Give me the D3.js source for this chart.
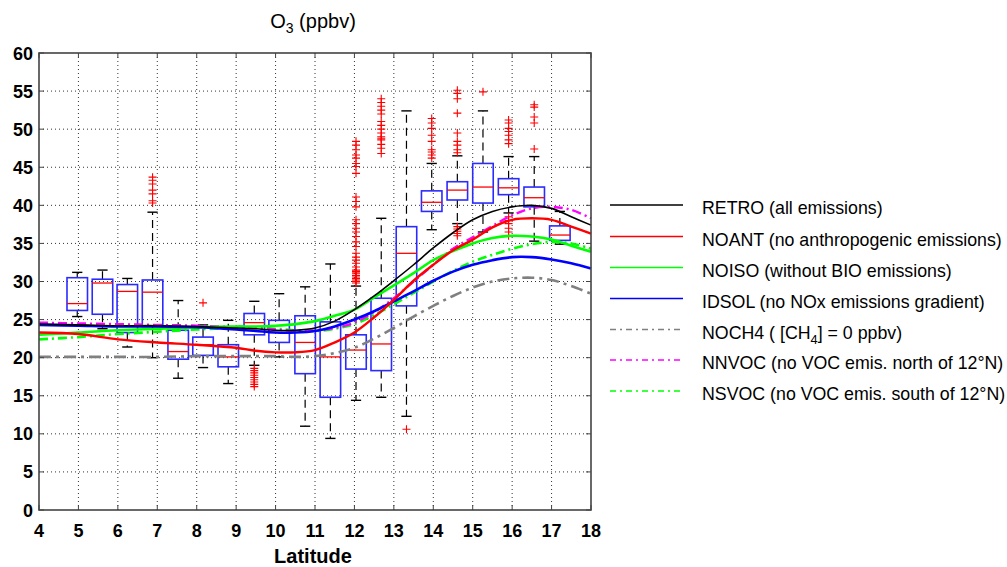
<!DOCTYPE html>
<html><head><meta charset="utf-8">
<script src="https://cdn.jsdelivr.net/npm/d3@7"></script>
<style>
body{margin:0;background:#fff;}
svg{display:block;font-family:"Liberation Sans",Arial,Helvetica,sans-serif;}
</style></head>
<body><svg id="c" width="1007" height="567"></svg>
<script>
// ---------- DATA ----------
const xTicks = [4,5,6,7,8,9,10,11,12,13,14,15,16,17,18];
const yTicks = [0,5,10,15,20,25,30,35,40,45,50,55,60];
const boxLat = [4.97,5.61,6.24,6.88,7.53,8.16,8.80,9.46,10.09,10.75,11.39,12.04,12.68,13.32,13.96,14.61,15.26,15.91,16.56,17.21];
const boxQ3  = [30.5,30.3,29.6,30.2,23.6,22.7,21.7,25.8,24.9,25.5,24.7,23.0,27.8,37.2,41.9,43.1,45.5,43.5,42.4,37.3];
const boxMed = [27.1,29.8,28.7,28.6,20.8,21.7,20.1,24.6,23.3,22.0,20.1,21.0,21.8,33.7,40.4,42.0,42.4,42.3,41.0,36.1];
const boxQ1  = [26.2,25.7,23.3,24.1,19.8,20.3,18.8,23.0,22.0,17.9,14.8,18.5,18.3,26.8,39.2,40.7,40.3,41.4,39.8,35.4];
const boxHi  = [31.2,31.5,30.4,39.1,27.5,24.3,24.9,27.4,28.4,29.3,32.3,29.4,38.3,52.4,45.5,46.5,52.4,46.4,46.4,39.2];
const boxLo  = [25.4,23.8,21.4,20.0,17.3,18.7,16.6,19.0,20.1,11.0,9.4,14.4,14.8,12.3,36.8,37.6,36.5,39.0,35.3,34.9];
const outliers = [
  [],[],[],
  [40.3,40.6,41.5,42.0,42.8,43.3,43.7],
  [],
  [27.2],
  [],
  [18.6,18.3,18.0,17.7,17.4,17.1,16.8,16.5,16.2],
  [],[],[],
  [29.8,30.0,30.2,30.4,30.6,30.8,31.1,31.3,31.5,31.9,32.4,32.8,33.2,33.7,34.6,35.2,35.9,36.5,37.0,37.6,38.1,39.8,40.5,41.1,44.2,45.1,45.5,46.2,46.6,47.3,47.9,48.4],
  [46.8,47.5,48.0,48.6,48.8,49.0,49.5,50.0,50.5,51.0,52.0,52.5,53.0,53.5,54.0],
  [10.6],
  [46.2,46.6,47.0,47.3,48.4,49.2,50.1,50.8,51.4],
  [36.0,36.3,36.6,36.9,37.2,46.9,47.3,47.9,48.4,49.5,52.1,54.0,54.7,55.1],
  [54.9],
  [36.0,36.5,37.0,37.6,38.0,38.5,48.1,48.6,49.2,49.7,50.1,50.8,51.2],
  [47.4,50.8,51.6,52.9,53.2],
  []
];
const curveLat = [4,5,6,7,8,9,9.5,10,10.5,11,11.5,12,12.5,13,13.5,14,14.5,15,15.5,16,16.5,17,17.5,18];
const retro = [24.4,24.3,24.2,24.2,24.1,23.9,23.8,23.6,23.6,23.9,24.8,26.3,28.1,30.1,32.2,34.4,36.4,38.1,39.2,39.8,40.0,39.6,38.5,37.4];
const noant = [23.3,23.1,22.4,22.0,21.7,21.3,20.9,20.7,20.7,21.0,22.0,23.3,25.3,27.6,30.1,32.2,34.1,35.5,37.1,38.1,38.3,38.1,37.2,36.3];
const noiso = [23.0,23.3,23.6,23.8,24.0,24.1,24.1,24.2,24.4,24.8,25.5,26.3,27.9,29.5,31.1,32.8,34.0,35.0,35.7,36.0,35.9,35.5,34.7,33.9];
const idsol = [24.3,24.2,24.1,24.1,24.0,23.7,23.5,23.3,23.3,23.5,24.1,25.0,26.1,27.4,28.7,30.1,31.3,32.2,32.8,33.2,33.2,32.9,32.4,31.7];
const noch4 = [20.1,20.1,20.1,20.1,20.2,20.2,20.2,20.2,20.1,20.2,20.6,21.3,22.5,23.9,25.4,26.8,28.1,29.2,30.0,30.4,30.5,30.2,29.4,28.4];
const nnvoc = [24.6,24.5,24.4,24.3,24.2,24.0,23.9,23.7,23.5,23.6,23.9,24.6,26.0,27.8,30.0,32.2,34.3,35.8,37.3,38.7,39.6,39.8,39.4,38.3];
const nsvoc = [22.4,22.7,23.1,23.4,23.7,23.9,23.9,23.8,23.6,23.5,23.8,24.4,25.6,27.0,28.5,30.0,31.4,32.6,33.5,34.3,34.9,35.2,35.0,34.3];
const seriesNames = ["RETRO (all emissions)","NOANT (no anthropogenic emissions)","NOISO (without BIO emissions)","IDSOL (no NOx emissions gradient)","NOCH4 ( [CH4] = 0 ppbv)","NNVOC (no VOC emis. north of 12°N)","NSVOC (no VOC emis. south of 12°N)"];

// ---------- STYLES ----------
const series = [
  {v:retro, color:"#000000", w:1.6, dash:null},
  {v:noant, color:"#ff0000", w:2.4, dash:null},
  {v:noiso, color:"#00ff00", w:2.6, dash:null},
  {v:idsol, color:"#0000ff", w:2.6, dash:null},
  {v:noch4, color:"#808080", w:2.6, dash:"12,5,3,5"},
  {v:nnvoc, color:"#ff00ff", w:2.4, dash:"9,4,2,4"},
  {v:nsvoc, color:"#00ff00", w:2.6, dash:"9,4,2,4"}
];

const svg = d3.select("#c");
const L=39, R=591, T=53, B=510;
const x = d3.scaleLinear().domain([4,18]).range([L,R]);
const y = d3.scaleLinear().domain([0,60]).range([B,T]);

// grid
const g = svg.append("g");
g.selectAll(".gx").data(xTicks.slice(1,-1)).enter().append("line")
  .attr("x1",d=>x(d)).attr("x2",d=>x(d)).attr("y1",B).attr("y2",T)
  .attr("stroke","#333").attr("stroke-width",1).attr("stroke-dasharray","1,3");
g.selectAll(".gy").data(yTicks.slice(1,-1)).enter().append("line")
  .attr("y1",d=>y(d)).attr("y2",d=>y(d)).attr("x1",L).attr("x2",R)
  .attr("stroke","#333").attr("stroke-width",1).attr("stroke-dasharray","1,3");

// boxes
const bw = 0.52, cw = 0.26;
boxLat.forEach((c,i)=>{
  const bg = svg.append("g");
  bg.append("line").attr("x1",x(c)).attr("x2",x(c)).attr("y1",y(boxQ3[i])).attr("y2",y(boxHi[i]))
    .attr("stroke","#000").attr("stroke-width",1.2).attr("stroke-dasharray","8,5");
  bg.append("line").attr("x1",x(c)).attr("x2",x(c)).attr("y1",y(boxQ1[i])).attr("y2",y(boxLo[i]))
    .attr("stroke","#000").attr("stroke-width",1.2).attr("stroke-dasharray","8,5");
  [boxHi[i],boxLo[i]].forEach(v=>{
    bg.append("line").attr("x1",x(c-cw/2)).attr("x2",x(c+cw/2)).attr("y1",y(v)).attr("y2",y(v))
      .attr("stroke","#000").attr("stroke-width",1.4);
  });
  bg.append("rect").attr("x",x(c-bw/2)).attr("width",x(c+bw/2)-x(c-bw/2))
    .attr("y",y(boxQ3[i])).attr("height",y(boxQ1[i])-y(boxQ3[i]))
    .attr("fill","none").attr("stroke","#2b2bff").attr("stroke-width",1.6);
  bg.append("line").attr("x1",x(c-bw/2)).attr("x2",x(c+bw/2)).attr("y1",y(boxMed[i])).attr("y2",y(boxMed[i]))
    .attr("stroke","#ff0000").attr("stroke-width",1.3);
  outliers[i].forEach(v=>{
    const px=x(c), py=y(v);
    bg.append("path").attr("d",`M${px-4},${py}H${px+4}M${px},${py-4}V${py+4}`)
      .attr("stroke","#ff0000").attr("stroke-width",1.1).attr("fill","none");
  });
});

// curves
const lineGen = d3.line().x((d,i)=>x(curveLat[i])).y(d=>y(d)).curve(d3.curveCatmullRom.alpha(0.5));
[4,6,5,2,3,1,0].forEach(k=>{
  const s=series[k];
  svg.append("path").attr("d",lineGen(s.v)).attr("fill","none")
    .attr("stroke",s.color).attr("stroke-width",s.w)
    .attr("stroke-dasharray",s.dash).attr("stroke-linejoin","round");
});

// axes frame
svg.append("rect").attr("x",L).attr("y",T).attr("width",R-L).attr("height",B-T)
  .attr("fill","none").attr("stroke","#444").attr("stroke-width",1.6);
xTicks.forEach(t=>{
  svg.append("line").attr("x1",x(t)).attr("x2",x(t)).attr("y1",B).attr("y2",B-5).attr("stroke","#444");
  svg.append("line").attr("x1",x(t)).attr("x2",x(t)).attr("y1",T).attr("y2",T+5).attr("stroke","#444");
});
yTicks.forEach(t=>{
  svg.append("line").attr("y1",y(t)).attr("y2",y(t)).attr("x1",L).attr("x2",L+5).attr("stroke","#444");
  svg.append("line").attr("y1",y(t)).attr("y2",y(t)).attr("x1",R).attr("x2",R-5).attr("stroke","#444");
});

svg.selectAll(".xl").data(xTicks).enter().append("text")
  .attr("x",d=>x(d)).attr("y",537).attr("text-anchor","middle")
  .attr("font-size",18).attr("font-weight","bold").text(d=>d);
svg.selectAll(".yl").data(yTicks).enter().append("text")
  .attr("x",33).attr("y",d=>y(d)+6.5).attr("text-anchor","end")
  .attr("font-size",18).attr("font-weight","bold").text(d=>d);

svg.append("text").attr("x",313).attr("y",563).attr("text-anchor","middle")
  .attr("font-size",20).attr("font-weight","bold").text("Latitude");

const tt = svg.append("text").attr("x",313).attr("y",28).attr("text-anchor","middle").attr("font-size",20);
tt.append("tspan").text("O");
tt.append("tspan").attr("font-size",14).attr("dy",5).text("3");
tt.append("tspan").attr("dy",-5).text(" (ppbv)");

// legend
const rowY = [205,236.5,267.5,298.5,329.5,360,391];
const texts = [];
series.forEach((s,i)=>{
  svg.append("line").attr("x1",610).attr("x2",683).attr("y1",rowY[i]).attr("y2",rowY[i])
    .attr("stroke",s.color).attr("stroke-width",1.5)
    .attr("stroke-dasharray",s.dash?"6,4,2,4":null);
  const t = svg.append("text").attr("x",702).attr("y",rowY[i]+9.5).attr("font-size",18);
  if(i===4){
    t.append("tspan").text("NOCH4 ( [CH");
    t.append("tspan").attr("font-size",13).attr("dy",5).text("4");
    t.append("tspan").attr("dy",-5).text("] = 0 ppbv)");
  } else t.text(seriesNames[i]);
  texts.push(t);
});
// horizontally condense legend text so the longest line ends at x≈1002 as in reference
const longest = texts[1].node().getComputedTextLength();
const k = Math.min(1, 300/longest);
texts.forEach(t=>{
  t.attr("transform",`translate(702,0) scale(${k},1) translate(-702,0)`);
});
</script>
</body></html>
